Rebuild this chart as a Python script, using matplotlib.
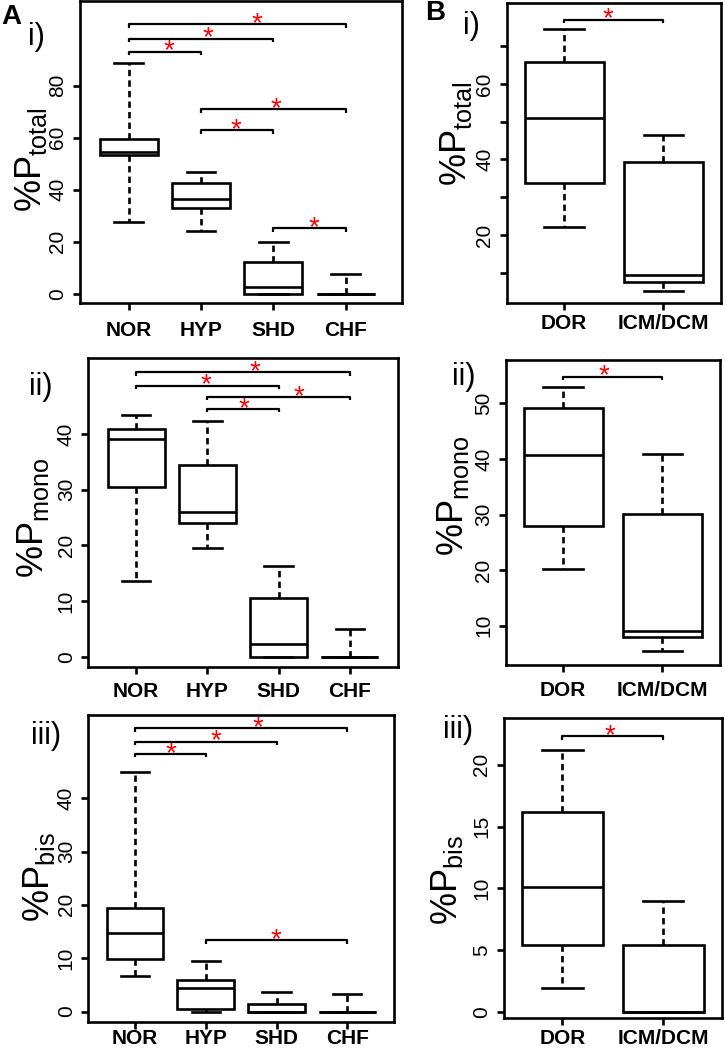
import matplotlib
matplotlib.use("Agg")
from matplotlib import pyplot as plt

plt.rcParams['font.family'] = ['Liberation Sans', 'DejaVu Sans']

W, H = 725, 1050
LW = 1.9

groups_a = ["NOR", "HYP", "SHD", "CHF"]
groups_b = ["DOR", "ICM/DCM"]

# A i) %P total
a1_lo = [27.7, 24.2, 0.0, 0.0]
a1_q1 = [53.2, 33.1, 0.0, 0.0]
a1_med = [54.6, 36.4, 2.7, 0.0]
a1_q3 = [59.4, 42.6, 12.1, 0.0]
a1_hi = [88.8, 46.9, 19.7, 7.4]
a1_pairs = [(1, 2, 93.1), (1, 3, 98.1), (1, 4, 103.7), (2, 3, 62.9), (2, 4, 71.0), (3, 4, 25.1)]
a1_star_x = [1.56, 2.09, 2.77, 2.48, 3.04, 3.56]

# A ii) %P mono
a2_lo = [13.6, 19.6, 0.0, 0.0]
a2_q1 = [30.4, 24.1, 0.0, 0.0]
a2_med = [39.1, 26.0, 2.3, 0.0]
a2_q3 = [40.9, 34.4, 10.5, 0.0]
a2_hi = [43.4, 42.3, 16.2, 4.9]
a2_pairs = [(1, 3, 48.7), (1, 4, 51.1), (2, 3, 44.5), (2, 4, 46.7)]
a2_star_x = [1.98, 2.67, 2.51, 3.29]

# A iii) %P bis
a3_lo = [6.7, 0.0, 0.0, 0.0]
a3_q1 = [9.8, 0.4, 0.0, 0.0]
a3_med = [14.7, 4.5, 0.0, 0.0]
a3_q3 = [19.35, 6.0, 1.5, 0.0]
a3_hi = [45.0, 9.5, 3.7, 3.3]
a3_pairs = [(1, 2, 48.3), (1, 3, 50.6), (1, 4, 53.1), (2, 4, 13.4)]
a3_star_x = [1.51, 2.14, 2.74, 2.99]

# B i) %P total
b1_lo = [22.1, 5.2]
b1_q1 = [33.7, 7.6]
b1_med = [51.0, 9.4]
b1_q3 = [65.8, 39.2]
b1_hi = [74.6, 46.6]
b1_pairs = [(1, 2, 77.0)]
b1_star_x = [1.44]

# B ii) %P mono
b2_lo = [20.2, 5.4]
b2_q1 = [28.0, 7.9]
b2_med = [40.7, 9.1]
b2_q3 = [49.2, 30.1]
b2_hi = [52.9, 40.8]
b2_pairs = [(1, 2, 54.8)]
b2_star_x = [1.41]

# B iii) %P bis
b3_lo = [1.9, 0.0]
b3_q1 = [5.4, 0.0]
b3_med = [10.1, 0.0]
b3_q3 = [16.2, 5.4]
b3_hi = [21.2, 9.0]
b3_pairs = [(1, 2, 22.3)]
b3_star_x = [1.47]

fig = plt.figure(figsize=(W / 100, H / 100), dpi=100)


def px_axes(l, r, t, b):
    return fig.add_axes([l / W, 1 - b / H, (r - l) / W, (b - t) / H])


def panel(box, names, lo, q1, med, q3, hi, pairs, star_x, xlim, ylim,
          yticks, ylabels, xpad):
    l, r, t, b = box
    ax = px_axes(l, r, t, b)
    stats = [dict(whislo=lo[i], q1=q1[i], med=med[i], q3=q3[i], whishi=hi[i])
             for i in range(len(names))]
    pos = list(range(1, len(names) + 1))
    ax.bxp(stats, positions=pos, widths=0.8, capwidths=0.4, showfliers=False,
           patch_artist=True,
           boxprops=dict(facecolor='white', edgecolor='black', linewidth=LW),
           whiskerprops=dict(color='black', linewidth=LW, linestyle=(0, (2.4, 1.6))),
           capprops=dict(color='black', linewidth=LW),
           medianprops=dict(color='black', linewidth=LW))
    ax.set_xlim(*xlim)
    ax.set_ylim(*ylim)
    drop = (ylim[1] - ylim[0]) * 3.5 / (b - t)
    for (i, j, y), sx in zip(pairs, star_x):
        ax.plot([i, i, j, j], [y - drop, y, y, y - drop], color='black',
                lw=1.6, solid_capstyle='butt', clip_on=False)
        ax.text(sx, y, '*', color='red', fontsize=20, ha='center', va='center')
    ax.set_xticks(pos)
    ax.set_xticklabels(names, fontsize=15, fontweight='bold')
    ax.set_yticks(yticks)
    ax.set_yticklabels(ylabels, rotation=90, va='center', fontsize=15)
    ax.tick_params(direction='out', length=5, width=LW)
    ax.tick_params(axis='x', pad=xpad)
    ax.tick_params(axis='y', pad=4)
    for s in ax.spines.values():
        s.set_linewidth(LW)
    return ax


panel((80, 401.7, 1, 302.7), groups_a, a1_lo, a1_q1, a1_med, a1_q3, a1_hi,
      a1_pairs, a1_star_x, (0.33, 4.77), (-3.47, 112.6),
      [0, 20, 40, 60, 80], ["0", "20", "40", "60", "80"], 8)
panel((88.3, 397.7, 358.3, 666.7), groups_a, a2_lo, a2_q1, a2_med, a2_q3, a2_hi,
      a2_pairs, a2_star_x, (0.33, 4.67), (-1.8, 53.6),
      [0, 10, 20, 30, 40], ["0", "10", "20", "30", "40"], 6)
panel((88.3, 394, 715, 1021.5), groups_a, a3_lo, a3_q1, a3_med, a3_q3, a3_hi,
      a3_pairs, a3_star_x, (0.34, 4.66), (-1.87, 55.6),
      [0, 10, 20, 30, 40], ["0", "10", "20", "30", "40"], 0.5)
panel((506.7, 721, 2.7, 302.7), groups_b, b1_lo, b1_q1, b1_med, b1_q3, b1_hi,
      b1_pairs, b1_star_x, (0.42, 2.58), (2.07, 81.5),
      [10, 20, 30, 40, 50, 60, 70], ["", "20", "", "40", "", "60", ""], 3)
panel((505.7, 720, 360, 665), groups_b, b2_lo, b2_q1, b2_med, b2_q3, b2_hi,
      b2_pairs, b2_star_x, (0.42, 2.58), (2.93, 57.8),
      [10, 20, 30, 40, 50], ["10", "20", "30", "40", "50"], 6.5)
panel((504, 721.7, 718.3, 1018.3), groups_b, b3_lo, b3_q1, b3_med, b3_q3, b3_hi,
      b3_pairs, b3_star_x, (0.42, 2.58), (-0.51, 23.75),
      [0, 5, 10, 15, 20], ["0", "5", "10", "15", "20"], 2.5)

# y axis titles
ylabs = [("%P$_\\mathregular{total}$", 31, 160), ("%P$_\\mathregular{mono}$", 33, 518),
         ("%P$_\\mathregular{bis}$", 39, 877), ("%P$_\\mathregular{total}$", 456, 134),
         ("%P$_\\mathregular{mono}$", 453, 496), ("%P$_\\mathregular{bis}$", 447, 880)]
for txt, x, y in ylabs:
    fig.text(x / W, 1 - y / H, txt, rotation=90, ha='center', va='center', fontsize=26)

# panel tags
tags = [("i)", 36.5, 36.5), ("ii)", 41, 387), ("iii)", 46, 736),
        ("i)", 471.5, 26), ("ii)", 464, 377), ("iii)", 458.5, 730)]
for txt, x, y in tags:
    fig.text(x / W, 1 - y / H, txt, ha='center', va='center', fontsize=22)
fig.text(11 / W, 1 - 17.5 / H, "A", ha='center', va='center', fontsize=20, fontweight='bold')
fig.text(435 / W, 1 - 13.5 / H, "B", ha='center', va='center', fontsize=20, fontweight='bold')

fig.savefig("out.png", dpi=100)
